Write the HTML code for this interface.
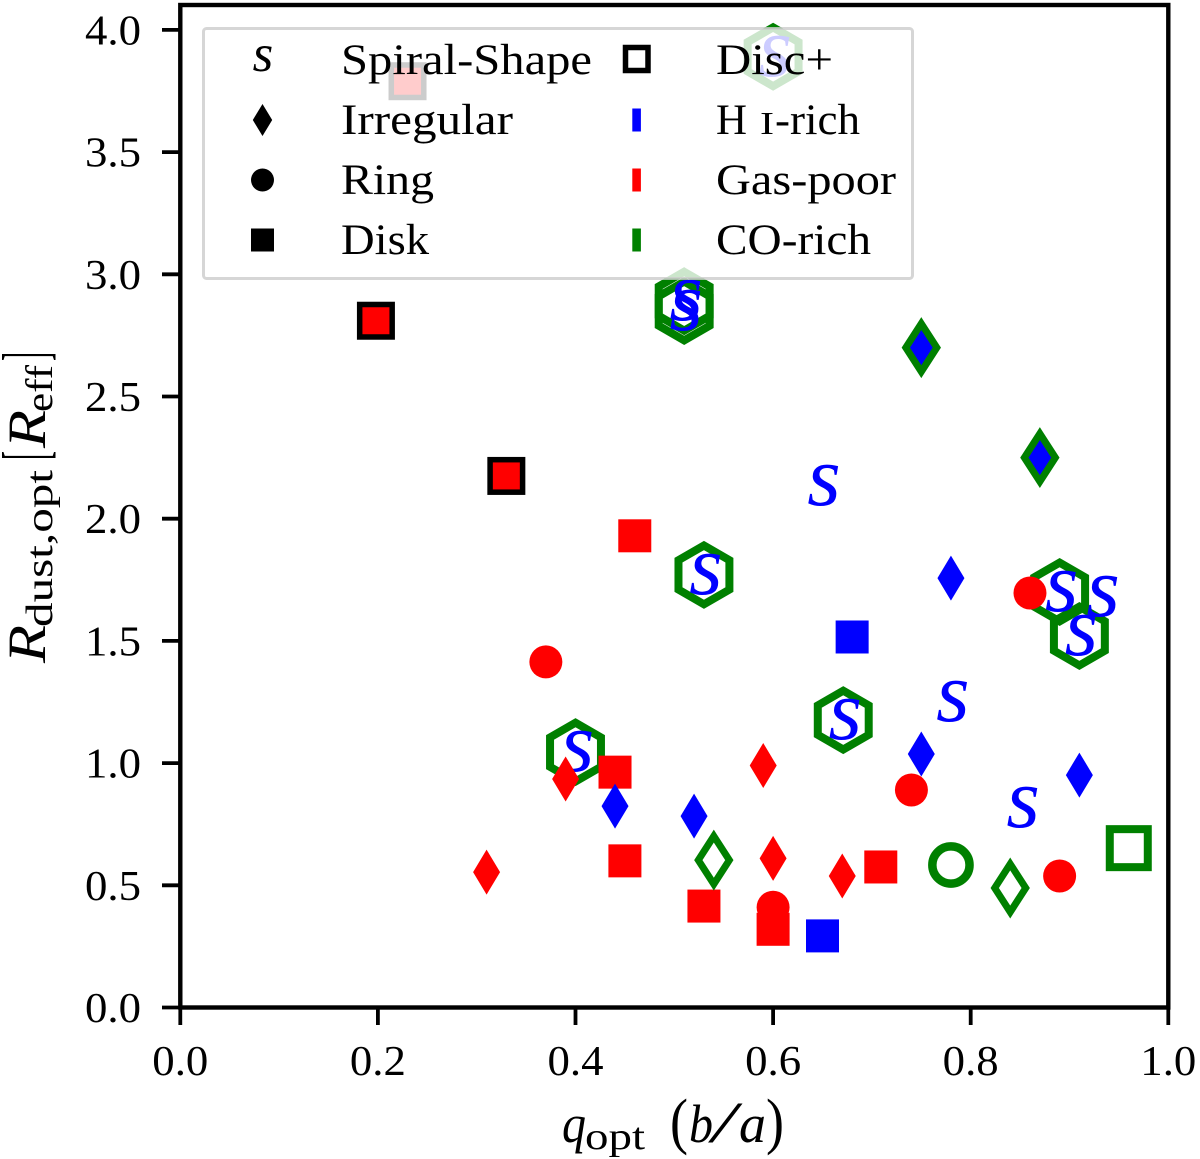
<!DOCTYPE html>
<html lang="en">
<head>
<meta charset="utf-8">
<title>Dust to optical radius versus axis ratio</title>
<style>
html,body{margin:0;padding:0;background:#fff;width:1200px;height:1159px;overflow:hidden}
svg{display:block}
text{font-family:"Liberation Serif",serif;fill:#000}
.it{font-style:italic}
</style>
</head>
<body>
<svg id="chart" xmlns="http://www.w3.org/2000/svg" width="1200" height="1159" viewBox="0 0 1200 1159">
  <rect x="0" y="0" width="1200" height="1159" fill="#fff"/>
  <g id="marks"></g>
  <g id="legend">
    <rect x="203.5" y="28.5" width="709" height="250" rx="3" fill="#fff" fill-opacity="0.8" stroke="#ccc" stroke-opacity="0.8" stroke-width="3"/>
    <g>
      <text class="it" x="263" y="71" font-size="53" text-anchor="middle">s</text>
      <text x="341" y="74" font-size="43" textLength="251" lengthAdjust="spacingAndGlyphs">Spiral-Shape</text>
    </g>
    <g>
      <path d="M262.5 104L272.2 120L262.5 136L252.8 120Z" fill="#000"/>
      <text x="341" y="134" font-size="43" textLength="172" lengthAdjust="spacingAndGlyphs">Irregular</text>
    </g>
    <g>
      <circle cx="262.5" cy="180" r="11.5" fill="#000"/>
      <text x="341" y="194" font-size="43" textLength="93" lengthAdjust="spacingAndGlyphs">Ring</text>
    </g>
    <g>
      <rect x="251" y="228.5" width="23" height="23" fill="#000"/>
      <text x="341" y="254" font-size="43" textLength="88" lengthAdjust="spacingAndGlyphs">Disk</text>
    </g>
    <g>
      <rect x="625.5" y="47.5" width="22.5" height="23" fill="none" stroke="#000" stroke-width="5.5"/>
      <text x="716" y="74" font-size="43" textLength="117" lengthAdjust="spacingAndGlyphs">Disc+</text>
    </g>
    <g>
      <rect x="632.3" y="108.5" width="8.6" height="23" fill="#0000ff"/>
      <text y="134" font-size="43"><tspan x="716" textLength="31" lengthAdjust="spacingAndGlyphs">H</tspan><tspan x="760" font-size="32" textLength="14" lengthAdjust="spacingAndGlyphs">I</tspan><tspan x="775" textLength="85" lengthAdjust="spacingAndGlyphs">-rich</tspan></text>
    </g>
    <g>
      <rect x="632.3" y="168.5" width="8.6" height="23" fill="#ff0000"/>
      <text x="716" y="194" font-size="43" textLength="180" lengthAdjust="spacingAndGlyphs">Gas-poor</text>
    </g>
    <g>
      <rect x="632.3" y="228.5" width="8.6" height="23" fill="#008000"/>
      <text x="716" y="254" font-size="43" textLength="155" lengthAdjust="spacingAndGlyphs">CO-rich</text>
    </g>
  </g>
  <g id="axes">
    <rect x="180.3" y="5" width="988" height="1002.5" fill="none" stroke="#000" stroke-width="4.4"/>
  </g>
  <g>
    <text class="it" x="562" y="1142" font-size="54" textLength="24" lengthAdjust="spacingAndGlyphs">q</text>
    <text x="585" y="1149" font-size="38" textLength="60" lengthAdjust="spacingAndGlyphs">opt</text>
    <text x="670" y="1142" font-size="62" textLength="18" lengthAdjust="spacingAndGlyphs">(</text>
    <text class="it" x="689" y="1142" font-size="54" textLength="24" lengthAdjust="spacingAndGlyphs">b</text>
    <text x="712" y="1142" font-size="58" class="it" textLength="24" lengthAdjust="spacingAndGlyphs">/</text>
    <text class="it" x="739" y="1142" font-size="54" textLength="27" lengthAdjust="spacingAndGlyphs">a</text>
    <text x="766" y="1142" font-size="62" textLength="18" lengthAdjust="spacingAndGlyphs">)</text>
  </g>
  <g transform="translate(45,663) rotate(-90)">
    <text class="it" x="0" y="0" font-size="54" textLength="38" lengthAdjust="spacingAndGlyphs">R</text>
    <text x="36" y="7" font-size="38" textLength="157" lengthAdjust="spacingAndGlyphs">dust,opt</text>
    <text x="203" y="2" font-size="65" textLength="9" lengthAdjust="spacingAndGlyphs">[</text>
    <text class="it" x="215" y="0" font-size="54" textLength="38" lengthAdjust="spacingAndGlyphs">R</text>
    <text x="251" y="7" font-size="38" textLength="47" lengthAdjust="spacingAndGlyphs">eff</text>
    <text x="302" y="2" font-size="65" textLength="9" lengthAdjust="spacingAndGlyphs">]</text>
  </g>
</svg>
<script>
// Tick labels
const xTicks = [0.0, 0.2, 0.4, 0.6, 0.8, 1.0];
const yTicks = [0.0, 0.5, 1.0, 1.5, 2.0, 2.5, 3.0, 3.5, 4.0];

// Spiral galaxies with a CO-rich hexagon
const spiralCoQ = [0.53, 0.671, 0.40, 0.89, 0.91, 0.51, 0.51, 0.60];
const spiralCoR = [1.77, 1.176, 1.045, 1.70, 1.52, 2.89, 2.85, 3.89];
// Spiral galaxies without hexagon
const spiralQ = [0.6515, 0.782, 0.853, 0.934];
const spiralR = [2.134, 1.25, 0.816, 1.68];
// Disk, gas-poor, Disc+ outline (black edge)
const diskEdgeQ = [0.23, 0.198, 0.33];
const diskEdgeR = [3.79, 2.81, 2.175];
// Disk, gas-poor
const diskRedQ = [0.46, 0.44, 0.45, 0.53, 0.60, 0.709];
const diskRedR = [1.93, 0.963, 0.60, 0.415, 0.32, 0.575];
// Disk, HI-rich
const diskBlueQ = [0.68, 0.65];
const diskBlueR = [1.516, 0.293];
// Disc+, CO-rich open square
const discCoQ = [0.96];
const discCoR = [0.652];
// Irregular, HI-rich
const irrBlueQ = [0.44, 0.52, 0.75, 0.78, 0.91];
const irrBlueR = [0.824, 0.783, 1.037, 1.757, 0.951];
// Irregular, HI-rich with CO edge
const irrBlueCoQ = [0.75, 0.87];
const irrBlueCoR = [2.70, 2.25];
// Irregular, CO-rich open
const irrCoQ = [0.54, 0.84];
const irrCoR = [0.603, 0.489];
// Irregular, gas-poor
const irrRedQ = [0.31, 0.39, 0.59, 0.60, 0.67];
const irrRedR = [0.554, 0.935, 0.99, 0.61, 0.538];
// Ring, gas-poor
const ringRedQ = [0.37, 0.86, 0.74, 0.60, 0.89];
const ringRedR = [1.414, 1.696, 0.89, 0.41, 0.538];
// Ring, CO-rich open
const ringCoQ = [0.78];
const ringCoR = [0.583];

const NS = 'http://www.w3.org/2000/svg';
const marks = document.getElementById('marks');
const axes = document.getElementById('axes');
const xScale = function (q) { return 180.3 + 988 * q; };
const yScale = function (r) { return 1007.5 - 244.4 * r; };

function makeShape(tag, attrs, name, parent) {
  const el = document.createElementNS(NS, tag);
  Object.keys(attrs).forEach(function (k) { el.setAttribute(k, attrs[k]); });
  
  
  parent.appendChild(el);
  return el;
}

function hexPath(cx, cy, R) {
  const w = R * Math.sqrt(3) / 2;
  return 'M' + cx + ' ' + (cy - R) + 'L' + (cx + w) + ' ' + (cy - R / 2) + 'L' + (cx + w) + ' ' + (cy + R / 2) +
    'L' + cx + ' ' + (cy + R) + 'L' + (cx - w) + ' ' + (cy + R / 2) + 'L' + (cx - w) + ' ' + (cy - R / 2) + 'Z';
}
function diamondPath(cx, cy, a, b) {
  return 'M' + cx + ' ' + (cy - a) + 'L' + (cx + b) + ' ' + cy + 'L' + cx + ' ' + (cy + a) + 'L' + (cx - b) + ' ' + cy + 'Z';
}

function drawSpiral(q, r, name) {
  const el = makeShape('text', {
    x: xScale(q), y: yScale(r) + 19, 'font-size': 86, 'text-anchor': 'middle', 'class': 'it', style: 'fill:#0000ff'
  }, name, marks);
  el.textContent = 's';
}
function drawHex(q, r, name) {
  makeShape('path', { d: hexPath(xScale(q), yScale(r), 29.4), fill: 'none', stroke: '#008000', 'stroke-width': 8 }, name, marks);
}
function drawSquare(q, r, fill, name, edge, sw, size) {
  const s = size || 33;
  makeShape('rect', {
    x: xScale(q) - s / 2, y: yScale(r) - s / 2, width: s, height: s,
    fill: fill, stroke: edge || 'none', 'stroke-width': sw || 0
  }, name, marks);
}
function drawDiamond(q, r, fill, name, edge, sw, a, b) {
  makeShape('path', {
    d: diamondPath(xScale(q), yScale(r), a || 22.5, b || 13.5),
    fill: fill, stroke: edge || 'none', 'stroke-width': sw || 0
  }, name, marks);
}
function drawCircle(q, r, fill, name, edge, sw, rad) {
  makeShape('circle', {
    cx: xScale(q), cy: yScale(r), r: rad || 16.5,
    fill: fill, stroke: edge || 'none', 'stroke-width': sw || 0
  }, name, marks);
}

spiralCoQ.forEach(function (q, i) { drawHex(q, spiralCoR[i], 'co-hexagon-' + i); });
spiralCoQ.forEach(function (q, i) { drawSpiral(q + 0.002, spiralCoR[i], 'spiral-co-' + i); });
spiralQ.forEach(function (q, i) { drawSpiral(q, spiralR[i], 'spiral-' + i); });
diskEdgeQ.forEach(function (q, i) { drawSquare(q, diskEdgeR[i], '#ff0000', 'disk-black-edge-' + i, '#000', 5.5, 32.5); });
diskRedQ.forEach(function (q, i) { drawSquare(q, diskRedR[i], '#ff0000', 'disk-gas-poor-' + i); });
diskBlueQ.forEach(function (q, i) { drawSquare(q, diskBlueR[i], '#0000ff', 'disk-hi-rich-' + i); });
discCoQ.forEach(function (q, i) { drawSquare(q, discCoR[i], 'none', 'disc-plus-co-' + i, '#008000', 8, 38); });
irrBlueQ.forEach(function (q, i) { drawDiamond(q, irrBlueR[i], '#0000ff', 'irregular-hi-rich-' + i); });
irrBlueCoQ.forEach(function (q, i) { drawDiamond(q, irrBlueCoR[i], '#0000ff', 'irregular-hi-co-' + i, '#008000', 7, 24, 15.5); });
irrCoQ.forEach(function (q, i) { drawDiamond(q, irrCoR[i], 'none', 'irregular-co-' + i, '#008000', 7, 24, 15.5); });
irrRedQ.forEach(function (q, i) { drawDiamond(q, irrRedR[i], '#ff0000', 'irregular-gas-poor-' + i); });
ringRedQ.forEach(function (q, i) { drawCircle(q, ringRedR[i], '#ff0000', 'ring-gas-poor-' + i); });
ringCoQ.forEach(function (q, i) { drawCircle(q, ringCoR[i], 'none', 'ring-co-' + i, '#008000', 8.5, 18.6); });

xTicks.forEach(function (t, i) {
  const x = xScale(t);
  makeShape('line', { x1: x, x2: x, y1: 1007.5, y2: 1025, stroke: '#000', 'stroke-width': 3.8 }, 'x-tick-' + i, axes);
  const lab = makeShape('text', { x: x, y: 1075, 'font-size': 42, 'text-anchor': 'middle', textLength: 56, lengthAdjust: 'spacingAndGlyphs' }, 'x-tick-label-' + i, axes);
  lab.textContent = t.toFixed(1);
});
yTicks.forEach(function (t, i) {
  const y = yScale(t);
  makeShape('line', { x1: 162, x2: 180.3, y1: y, y2: y, stroke: '#000', 'stroke-width': 3.8 }, 'y-tick-' + i, axes);
  const lab = makeShape('text', { x: 141, y: y + 14.5, 'font-size': 42, 'text-anchor': 'end', textLength: 56, lengthAdjust: 'spacingAndGlyphs' }, 'y-tick-label-' + i, axes);
  lab.textContent = t.toFixed(1);
});
</script>
</body>
</html>
